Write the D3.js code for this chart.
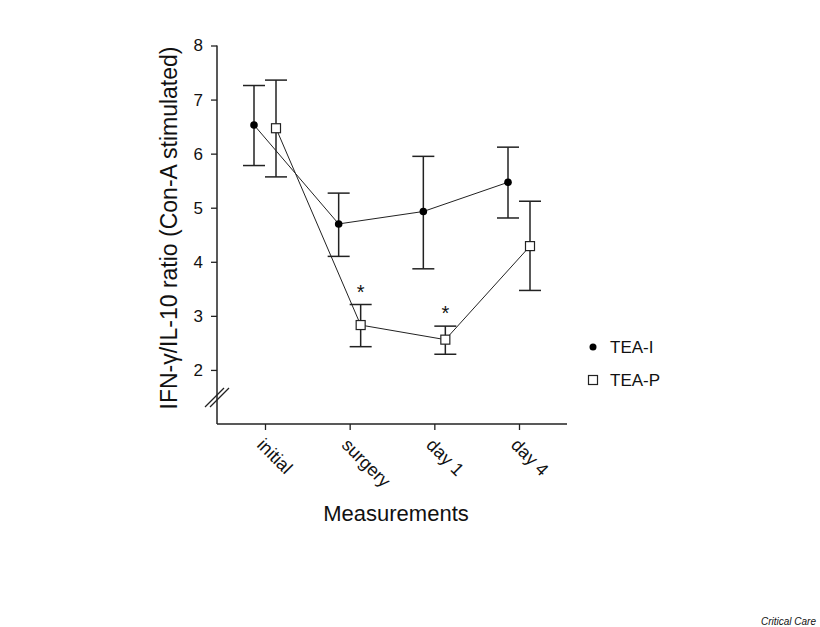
<!DOCTYPE html>
<html>
<head>
<meta charset="utf-8">
<script src="https://cdnjs.cloudflare.com/ajax/libs/d3/7.8.5/d3.min.js"></script>
<style>
body { margin: 0; background: #fff; }
text { font-family: "Liberation Sans", Arial, sans-serif; fill: #111; }
</style>
</head>
<body>
<div class="chart"></div>
<script>
// values
var categories = ["initial", "surgery", "day 1", "day 4"];
var yTicks = [2, 3, 4, 5, 6, 7, 8];

var teaI = [6.53, 4.70, 4.93, 5.47];
var teaIUpper = [7.26, 5.27, 5.95, 6.12];
var teaILower = [5.78, 4.10, 3.87, 4.81];

var teaP = [6.47, 2.83, 2.56, 4.29];
var teaPUpper = [7.36, 3.21, 2.81, 5.12];
var teaPLower = [5.57, 2.43, 2.29, 3.47];

var significant = [false, true, true, false]; // asterisk above TEA-P

var svgWidth = 820;
var svgHeight = 627;

var svg = d3.select(".chart")
    .append("svg")
    .attr("width", svgWidth)
    .attr("height", svgHeight);

var xScale = d3.scalePoint()
    .domain(categories)
    .range([265, 519]);

var yScale = d3.scaleLinear()
    .domain([1, 8])
    .range([424, 45.5]);

var offset = 11;

// y axis (line from 8 down to bottom)
var leftAxis = d3.axisLeft(yScale)
    .tickValues(yTicks)
    .tickFormat(d3.format("d"))
    .tickSize(6)
    .tickPadding(8)
    .tickSizeOuter(0);

var yAxisG = svg.append("g")
    .attr("transform", "translate(217,0)")
    .call(leftAxis);
yAxisG.select(".domain").remove();
yAxisG.append("line")
    .attr("x1", 0).attr("x2", 0)
    .attr("y1", yScale(8)).attr("y2", yScale(1))
    .attr("stroke", "#222").attr("stroke-width", 1.5);
yAxisG.selectAll(".tick line").attr("stroke", "#222").attr("stroke-width", 1.3);
yAxisG.selectAll(".tick text")
    .style("font-size", "17px")
    .attr("fill", "#222");

// break marks
[0, 5].forEach(function(d) {
    svg.append("line")
        .attr("x1", 205 + d).attr("y1", 407)
        .attr("x2", 224 + d).attr("y2", 388)
        .attr("stroke", "#222").attr("stroke-width", 1.2);
});

// x axis
var bottomAxis = d3.axisBottom(xScale)
    .tickSize(6)
    .tickSizeOuter(0)
    .tickFormat("");

var xAxisG = svg.append("g")
    .attr("transform", "translate(0," + yScale(1) + ")")
    .call(bottomAxis);
xAxisG.select(".domain").remove();
xAxisG.append("line")
    .attr("x1", 217).attr("x2", 567)
    .attr("y1", 0).attr("y2", 0)
    .attr("stroke", "#222").attr("stroke-width", 1.5);
xAxisG.selectAll(".tick line").attr("stroke", "#222").attr("stroke-width", 1.3);

xAxisG.selectAll(".xlabel")
    .data(categories)
    .enter()
    .append("text")
    .attr("class", "xlabel")
    .attr("text-anchor", "start")
    .attr("transform", function(d) {
        return "translate(" + (xScale(d) - 9) + ",22) rotate(45)";
    })
    .style("font-size", "18px")
    .text(function(d) { return d; });

// axis titles
svg.append("text")
    .attr("transform", "translate(177,228) rotate(-90)")
    .attr("text-anchor", "middle")
    .style("font-size", "23px")
    .text("IFN-\u03B3/IL-10 ratio (Con-A stimulated)");

svg.append("text")
    .attr("x", 396)
    .attr("y", 521)
    .attr("text-anchor", "middle")
    .style("font-size", "22px")
    .text("Measurements");

function drawSeries(values, upper, lower, dx, marker) {
    var g = svg.append("g");
    var line = d3.line()
        .x(function(d, i) { return xScale(categories[i]) + dx; })
        .y(function(d) { return yScale(d); });

    g.append("path")
        .datum(values)
        .attr("d", line)
        .attr("fill", "none")
        .attr("stroke", "#222")
        .attr("stroke-width", 1);

    var bars = g.selectAll(".err")
        .data(values)
        .enter()
        .append("g")
        .attr("class", "err");

    bars.append("line")
        .attr("x1", function(d, i) { return xScale(categories[i]) + dx; })
        .attr("x2", function(d, i) { return xScale(categories[i]) + dx; })
        .attr("y1", function(d, i) { return yScale(upper[i]); })
        .attr("y2", function(d, i) { return yScale(lower[i]); })
        .attr("stroke", "#222").attr("stroke-width", 1.5);

    [upper, lower].forEach(function(arr) {
        bars.append("line")
            .attr("x1", function(d, i) { return xScale(categories[i]) + dx - 11; })
            .attr("x2", function(d, i) { return xScale(categories[i]) + dx + 11; })
            .attr("y1", function(d, i) { return yScale(arr[i]); })
            .attr("y2", function(d, i) { return yScale(arr[i]); })
            .attr("stroke", "#222").attr("stroke-width", 1.5);
    });

    if (marker === "circle") {
        bars.append("circle")
            .attr("cx", function(d, i) { return xScale(categories[i]) + dx; })
            .attr("cy", function(d) { return yScale(d); })
            .attr("r", 3.8)
            .attr("fill", "#000");
    } else {
        bars.append("rect")
            .attr("x", function(d, i) { return xScale(categories[i]) + dx - 4.5; })
            .attr("y", function(d) { return yScale(d) - 4.5; })
            .attr("width", 9)
            .attr("height", 9)
            .attr("fill", "#fff")
            .attr("stroke", "#222")
            .attr("stroke-width", 1.2);
    }
}

drawSeries(teaI, teaIUpper, teaILower, -offset, "circle");
drawSeries(teaP, teaPUpper, teaPLower, offset, "square");

// significance asterisks
svg.selectAll(".star")
    .data(categories.filter(function(d, i) { return significant[i]; }))
    .enter()
    .append("text")
    .attr("class", "star")
    .attr("x", function(d) { return xScale(d) + offset; })
    .attr("y", function(d) {
        var i = categories.indexOf(d);
        return yScale(teaPUpper[i]) - 6;
    })
    .attr("text-anchor", "middle")
    .style("font-size", "20px")
    .text("*");

// legend
var legend = svg.append("g");
legend.append("circle")
    .attr("cx", 593).attr("cy", 347).attr("r", 3.5).attr("fill", "#000");
legend.append("text")
    .attr("x", 610).attr("y", 353)
    .style("font-size", "17px")
    .text("TEA-I");
legend.append("rect")
    .attr("x", 588.5).attr("y", 375.5).attr("width", 9).attr("height", 9)
    .attr("fill", "#fff").attr("stroke", "#222").attr("stroke-width", 1.2);
legend.append("text")
    .attr("x", 610).attr("y", 386)
    .style("font-size", "17px")
    .text("TEA-P");

svg.append("text")
    .attr("x", 816)
    .attr("y", 625)
    .attr("text-anchor", "end")
    .style("font-size", "10px")
    .style("font-style", "italic")
    .text("Critical Care");
</script>
</body>
</html>
